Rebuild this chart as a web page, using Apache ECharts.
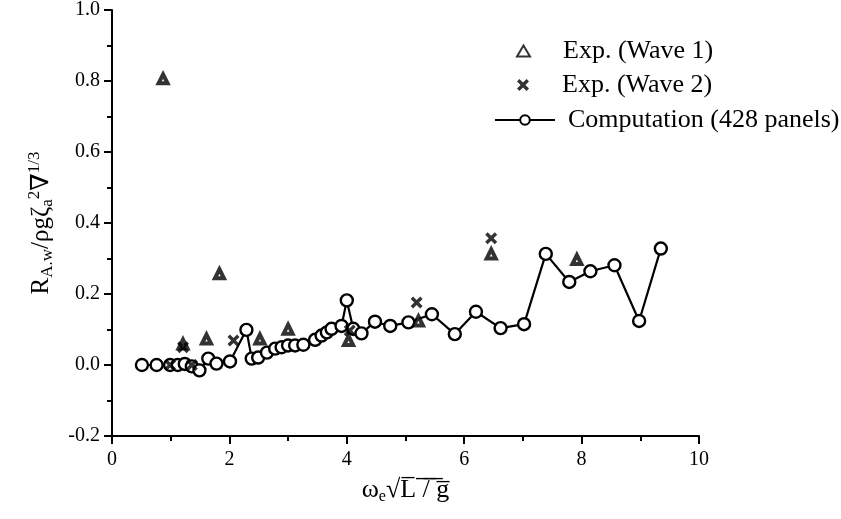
<!DOCTYPE html>
<html>
<head>
<meta charset="utf-8">
<script src="https://cdn.jsdelivr.net/npm/echarts@6/dist/echarts.min.js"></script>
<style>
  html, body { margin: 0; padding: 0; background: #fff; }
  #chart { width: 841px; height: 519px; }
</style>
</head>
<body>
<div id="chart"></div>
<script>
// computed curve (428 panels)
const compX = [0.51, 0.76, 0.99, 1.12, 1.24, 1.36, 1.49, 1.64, 1.78, 2.01,
  2.29, 2.38, 2.49, 2.64, 2.78, 2.89, 3.0, 3.12, 3.26, 3.46,
  3.57, 3.66, 3.74, 3.91, 4.00, 4.11, 4.25, 4.48, 4.74, 5.05,
  5.45, 5.84, 6.20, 6.62, 7.02, 7.39, 7.79, 8.15, 8.56, 8.98, 9.35]
const compY = [0, 0, 0, 0, 0.003, -0.004, -0.015, 0.018, 0.004, 0.01,
  0.099, 0.018, 0.021, 0.035, 0.046, 0.05, 0.055, 0.055, 0.057, 0.071,
  0.083, 0.092, 0.102, 0.11, 0.182, 0.102, 0.089, 0.122, 0.11, 0.12,
  0.143, 0.087, 0.15, 0.104, 0.115, 0.313, 0.234, 0.264, 0.281, 0.124, 0.328]

// experiments
const wave1X = [0.87, 1.21, 1.61, 1.83, 2.52, 3.0, 4.03, 5.22, 6.46, 7.92]
const wave1Y = [0.806, 0.059, 0.073, 0.257, 0.073, 0.101, 0.069, 0.124, 0.313, 0.297]
const wave2X = [0.99, 1.21, 1.36, 2.07, 4.05, 5.19, 6.46]
const wave2Y = [0, 0.05, 0, 0.069, 0.097, 0.176, 0.357]

const xTicks = [0, 2, 4, 6, 8, 10]
const yTicks = [-0.2, 0.0, 0.2, 0.4, 0.6, 0.8, 1.0]

const serif = "'Liberation Serif', 'DejaVu Serif', serif"
const crossPath = 'path://M2,0 L5,3 L8,0 L10,2 L7,5 L10,8 L8,10 L5,7 L2,10 L0,8 L3,5 L0,2 Z'

const pairs = (xs, ys) => xs.map((x, i) => [x, ys[i]])

const chart = echarts.init(document.getElementById('chart'))

const axisCommon = {
  axisLine: { show: true, onZero: false, lineStyle: { color: '#000', width: 2 } },
  axisTick: { show: true, inside: false, length: 8, lineStyle: { color: '#000', width: 2 } },
  minorTick: { show: true, splitNumber: 2, length: 5, lineStyle: { color: '#000', width: 2 } },
  splitLine: { show: false },
  nameMoveOverlap: false
}

const legendText = { color: '#000', fontFamily: serif, fontSize: 26, lineHeight: 30 }

const option = {
  animation: false,
  backgroundColor: '#fff',
  grid: { left: 112, right: 142, top: 7, bottom: 83, containLabel: false },
  legend: [
    {
      data: ['Exp. (Wave 1)'], left: 511, top: 31, itemWidth: 13, itemHeight: 11,
      textStyle: { ...legendText, padding: [0, 0, 0, 28] }
    },
    {
      data: ['Exp. (Wave 2)'], left: 512, top: 65, itemWidth: 12, itemHeight: 12,
      textStyle: { ...legendText, padding: [0, 0, 0, 28] }
    },
    {
      data: ['Computation (428 panels)'], left: 489, top: 100, itemWidth: 60, itemHeight: 12,
      textStyle: { ...legendText, padding: [0, 0, 0, 8] }
    }
  ],
  xAxis: {
    ...axisCommon,
    type: 'value',
    min: 0, max: 10, interval: 2,
    axisLabel: {
      color: '#000', fontFamily: serif, fontSize: 20, margin: 14,
      formatter: v => xTicks.includes(v) ? String(v) : ''
    },
    name: '{w|ω}{sub|e}{n|√L̅ ̅/̅ ̅g̅}',
    nameLocation: 'middle',
    nameGap: 39,
    nameTextStyle: {
      rich: {
        w: { fontFamily: serif, fontSize: 26, color: '#000', lineHeight: 30 },
        sub: { fontFamily: serif, fontSize: 16, color: '#000', lineHeight: 17, verticalAlign: 'bottom' },
        n: { fontFamily: serif, fontSize: 26, color: '#000', lineHeight: 30 }
      }
    }
  },
  yAxis: {
    ...axisCommon,
    type: 'value',
    min: -0.2, max: 1.0, interval: 0.2,
    axisLabel: {
      color: '#000', fontFamily: serif, fontSize: 20, margin: 12,
      formatter: v => {
        const t = yTicks.find(k => Math.abs(k - v) < 1e-6)
        return t === undefined ? '' : t.toFixed(1)
      }
    },
    name: '{n|R}{sub|A.w}{n|/ρgζ}{sub|a}{sup|2}{n|∇}{sup|1/3}',
    nameLocation: 'middle',
    nameGap: 56,
    nameRotate: 90,
    nameTextStyle: {
      rich: {
        n: { fontFamily: serif, fontSize: 25, color: '#000', lineHeight: 30 },
        sub: { fontFamily: serif, fontSize: 17, color: '#000', lineHeight: 17, verticalAlign: 'bottom' },
        sup: { fontFamily: serif, fontSize: 17, color: '#000', lineHeight: 17, verticalAlign: 'top' }
      }
    }
  },
  series: [
    {
      name: 'Computation (428 panels)',
      type: 'line',
      data: pairs(compX, compY),
      symbol: 'circle',
      symbolSize: 12,
      showAllSymbol: true,
      lineStyle: { color: '#000', width: 2.2 },
      itemStyle: { color: '#fff', borderColor: '#000', borderWidth: 2.4 },
      z: 2
    },
    {
      name: 'Exp. (Wave 1)',
      type: 'scatter',
      data: pairs(wave1X, wave1Y),
      symbol: 'triangle',
      symbolSize: 9,
      itemStyle: { color: '#fff', borderColor: '#000', borderWidth: 4 },
      z: 3
    },
    {
      name: 'Exp. (Wave 2)',
      type: 'scatter',
      data: pairs(wave2X, wave2Y),
      symbol: crossPath,
      symbolSize: 12,
      itemStyle: { color: '#000' },
      z: 4
    }
  ]
}

chart.setOption(option)
</script>
</body>
</html>
